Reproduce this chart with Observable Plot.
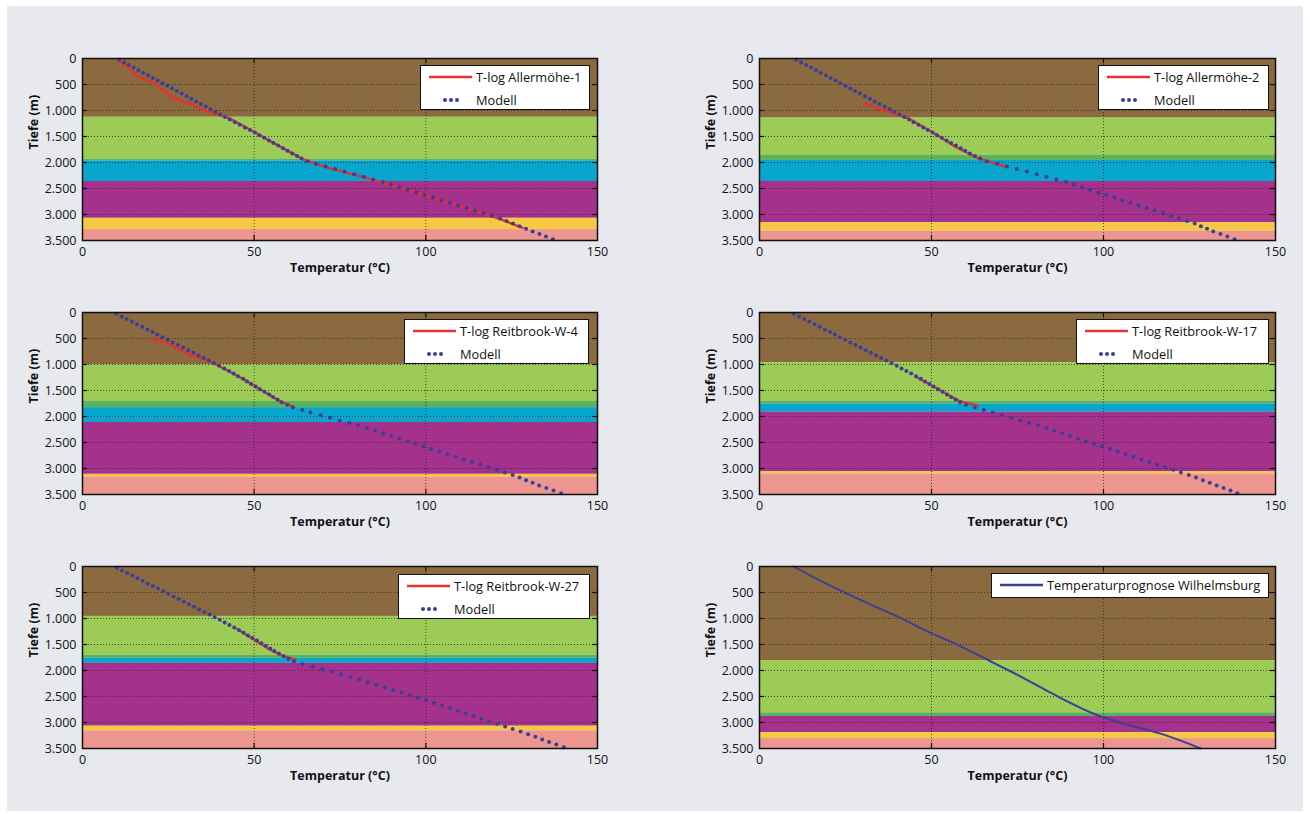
<!DOCTYPE html>
<html><head><meta charset="utf-8">
<script src="https://cdn.jsdelivr.net/npm/d3@7"></script>
<script src="https://cdn.jsdelivr.net/npm/@observablehq/plot@0.6"></script>
<style>
body{margin:0;background:#fff;font-family:"Open Sans",sans-serif;}
#bg{position:absolute;left:7px;top:6px;width:1296px;height:805px;background:#e8e9ee;}
.panel{position:absolute;width:600px;height:250px;}
.legend{position:absolute;background:#fff;border:1.5px solid #111;box-sizing:border-box;font-size:12.8px;color:#111;}
.row{position:absolute;left:0;right:0;height:16px;}
.row .lab{position:absolute;top:0;line-height:16px;white-space:nowrap;}
.row svg{position:absolute;top:0;left:0;}
</style></head><body>
<div id="bg"></div>
<script>
// ---------- DATA ----------
const tempTicks = [0, 50, 100, 150];
const depthTicks = [0, 500, 1000, 1500, 2000, 2500, 3000, 3500];

// model depths (m), one dot every 50 m
const modelDepths = [25,75,125,175,225,275,325,375,425,475,525,575,625,675,725,775,825,875,925,975,
1025,1075,1125,1175,1225,1275,1325,1375,1425,1475,1525,1575,1625,1675,1725,1775,1825,1875,1925,1975,
2025,2075,2125,2175,2225,2275,2325,2375,2425,2475,2525,2575,2625,2675,2725,2775,2825,2875,2925,2975,
3025,3075,3125,3175,3225,3275,3325,3375,3425,3475];

// model temperatures (°C)
const modelAllermoehe1 = [10.7,12.1,13.5,14.9,16.3,17.7,19.1,20.5,21.9,23.3,
24.7,26.1,27.5,28.9,30.3,31.7,33.1,34.5,35.9,37.3,
38.7,40.1,41.5,42.9,44.4,45.8,47.3,48.8,50.2,51.5,
52.9,54.3,55.6,57.0,58.4,59.7,61.1,62.5,63.8,65.5,
68.0,70.8,73.6,76.3,79.1,81.9,84.7,87.4,89.8,92.3,
94.7,97.2,99.6,102.1,104.5,107.0,109.4,111.9,114.3,116.8,
119.2,121.6,123.5,125.4,127.3,129.2,131.1,133.1,135.0,137.0];
const modelAllermoehe2 = [10.7,12.1,13.6,15.0,16.4,17.8,19.3,20.7,22.1,23.5,
25.0,26.4,27.8,29.2,30.7,32.1,33.5,34.9,36.4,37.8,
39.2,40.7,42.1,43.5,44.8,46.2,47.6,48.9,50.3,51.6,
53.0,54.4,55.7,57.1,58.5,59.8,61.2,62.6,64.2,66.2,
69.0,71.9,74.8,77.7,80.6,83.4,86.3,89.1,91.4,93.8,
96.1,98.5,100.8,103.2,105.5,107.9,110.2,112.6,114.9,117.3,
119.6,121.9,124.3,126.5,128.3,130.1,131.9,134.0,136.0,138.1];
const modelReitbrook4 = [9.9,11.4,12.9,14.4,15.9,17.4,18.9,20.4,21.8,23.3,
24.8,26.3,27.8,29.3,30.8,32.3,33.8,35.3,36.8,38.3,
39.8,41.3,42.7,44.0,45.3,46.8,47.9,49.1,50.4,51.6,
53.0,54.4,55.5,56.8,58.0,59.6,61.3,64.0,66.4,69.3,
72.1,74.9,77.7,80.3,82.8,85.2,87.6,89.9,92.3,94.7,
97.0,99.3,101.6,104.0,106.3,108.7,111.0,113.4,115.9,118.3,
120.7,123.0,125.3,127.3,129.2,131.1,133.0,135.1,137.2,139.4];
const modelReitbrook17 = [10.0,11.5,13.0,14.5,16.0,17.5,19.0,20.5,21.9,23.4,
24.9,26.4,27.9,29.4,30.9,32.4,33.9,35.4,36.9,38.4,
39.9,41.3,42.7,44.1,45.5,46.9,48.1,49.4,50.6,51.9,
53.2,54.5,55.7,57.0,58.3,60.0,62.6,65.2,67.8,70.5,
73.3,75.8,78.4,81.0,83.4,85.7,88.0,90.3,92.6,94.9,
97.2,99.5,101.8,104.1,106.4,108.7,111.0,113.3,115.6,117.9,
120.3,122.5,124.8,126.9,128.9,130.9,132.9,134.9,136.9,138.9];
const modelReitbrook27 = [10.0,11.5,13.0,14.5,16.0,17.5,19.0,20.5,22.0,23.5,
25.0,26.5,28.0,29.5,31.0,32.5,34.0,35.5,37.0,38.5,
40.0,41.4,42.8,44.2,45.6,46.9,48.2,49.5,50.8,52.1,
53.4,54.7,55.9,57.2,58.6,60.0,61.6,64.0,67.0,69.9,
72.6,75.3,78.0,80.6,83.1,85.6,88.1,90.5,92.9,95.3,
97.7,100.1,102.4,104.7,107.0,109.3,111.6,113.9,116.2,118.5,
120.8,123.1,125.3,127.6,129.8,131.9,133.9,135.9,138.0,140.2];

// measured T-logs: [depth m, temperature °C]
const logAllermoehe1 = [[32,10.2],[193,14.1],[321,15.2],[385,17.6],[482,21.3],[597,23.2],[726,25.7],[816,28.5],[867,31.3],[963,34.1],[1015,36.3],[1073,39.6],[1156,43.0],[1400,49.6],[1700,57.7],[1950,64.6],[2100,71.4],[2200,77.1],[2300,82.9],[2400,88.1],[2500,93.2],[2600,98.3],[2700,103.3],[2800,108.1],[2900,113.0],[3000,117.7],[3100,122.1],[3200,125.9],[3256,128.2]];
const logAllermoehe2 = [[867,30.6],[963,34.3],[1047,38.8],[1156,43.4],[1413,50.2],[1702,57.0],[1927,63.8],[2087,72.0]];
const logReitbrook4 = [[513,20.3],[552,23.2],[615,25.6],[718,28.5],[814,31.0],[859,33.4],[904,35.8],[975,38.2],[1100,41.8],[1300,47.4],[1500,52.3],[1700,57.3],[1821,61.6]];
const logReitbrook17 = [[1240,45.5],[1400,50.0],[1600,55.3],[1700,58.0],[1790,63.5]];
const logReitbrook27 = [[1200,45.0],[1400,49.8],[1600,54.6],[1700,57.6],[1790,62.0]];

// temperature forecast Wilhelmsburg: [depth m, temperature °C]
const forecastWilhelmsburg = [[0,10.0],[200,15.5],[448,23.1],[686,30.8],[975,40.5],[1263,49.2],[1487,57.0],[1808,66.7],[2000,72.5],[2371,83.1],[2609,89.9],[2846,97.7],[2900,100.0],[3013,105.4],[3205,116.1],[3500,128.2]];

// geological units: [top m, bottom m, unit]
const strataAllermoehe1 = [[0,1130,"brown"],[1130,1935,"green"],[1935,1968,"darkgreen"],[1968,2365,"cyan"],[2365,3073,"purple"],[3073,3290,"yellow"],[3290,3500,"pink"]];
const strataAllermoehe2 = [[0,1145,"brown"],[1145,1865,"green"],[1865,1960,"darkgreen"],[1960,2365,"cyan"],[2365,3160,"purple"],[3160,3322,"yellow"],[3322,3500,"pink"]];
const strataReitbrook4 = [[0,1006,"brown"],[1006,1710,"green"],[1710,1830,"darkgreen"],[1830,2115,"cyan"],[2115,3112,"purple"],[3112,3168,"yellow"],[3168,3500,"pink"]];
const strataReitbrook17 = [[0,962,"brown"],[962,1705,"green"],[1705,1763,"darkgreen"],[1763,1917,"cyan"],[1917,3064,"purple"],[3064,3109,"yellow"],[3109,3500,"pink"]];
const strataReitbrook27 = [[0,960,"brown"],[960,1708,"green"],[1708,1766,"darkgreen"],[1766,1862,"cyan"],[1862,3071,"purple"],[3071,3161,"yellow"],[3161,3500,"pink"]];
const strataWilhelmsburg = [[0,1810,"brown"],[1810,2815,"green"],[2815,2885,"darkgreen"],[2885,3195,"purple"],[3195,3310,"yellow"],[3310,3500,"pink"]];

const legendLabels = ["T-log Allermöhe-1","T-log Allermöhe-2","T-log Reitbrook-W-4","T-log Reitbrook-W-17","T-log Reitbrook-W-27","Temperaturprognose Wilhelmsburg"];
const modelLabel = "Modell";

// ---------- STYLE ----------
const unitColor = {brown:"#8c6a3f", green:"#9ccb56", darkgreen:"#5cb25a", cyan:"#08a6cc", purple:"#a4318b", yellow:"#f6c944", pink:"#ec968f"};
const RED = "#e8302c", BLUE = "#3b3f98";
const fmt = d => d3.format(",")(d).replace(/,/g, ".");

const panels = [
  {left:10, top:40, mr:13, strata:strataAllermoehe1, model:modelAllermoehe1, log:logAllermoehe1, label:legendLabels[0], lg:[420,65,170,45]},
  {left:687, top:40, mr:12, strata:strataAllermoehe2, model:modelAllermoehe2, log:logAllermoehe2, label:legendLabels[1], lg:[1098,65,171,45]},
  {left:10, top:294, mr:13, strata:strataReitbrook4, model:modelReitbrook4, log:logReitbrook4, label:legendLabels[2], lg:[404,319,185,45]},
  {left:687, top:294, mr:12, strata:strataReitbrook17, model:modelReitbrook17, log:logReitbrook17, label:legendLabels[3], lg:[1076,319,193,45]},
  {left:10, top:548, mr:13, strata:strataReitbrook27, model:modelReitbrook27, log:logReitbrook27, label:legendLabels[4], lg:[398,574,192,45]},
  {left:687, top:548, mr:12, strata:strataWilhelmsburg, forecast:forecastWilhelmsburg, label:legendLabels[5], lg:[991,573,278,25]}
];

const inner = depthTicks.slice(1, -1);
const innerT = tempTicks.slice(1, -1);

for (const p of panels) {
  const marks = [
    Plot.rect(p.strata, {x1:0, x2:150, y1:d=>d[0], y2:d=>d[1], fill:d=>unitColor[d[2]]}),
    Plot.ruleY(inner, {stroke:"#262626", strokeDasharray:"1,2", strokeWidth:1, strokeOpacity:0.8}),
    Plot.ruleX(innerT, {stroke:"#262626", strokeDasharray:"1,2", strokeWidth:1, strokeOpacity:0.8})
  ];
  if (p.log) marks.push(Plot.line(p.log, {x:d=>d[1], y:d=>d[0], stroke:RED, strokeWidth:2.4}));
  if (p.model) marks.push(Plot.dot(modelDepths, {x:(d,i)=>p.model[i], y:d=>d, r:2.0, fill:BLUE, stroke:"none"}));
  if (p.forecast) marks.push(Plot.line(p.forecast, {x:d=>d[1], y:d=>d[0], stroke:BLUE, strokeWidth:2, curve:"monotone-y"}));
  marks.push(
    Plot.ruleY(inner, {x1:0, x2:1.5, stroke:"#111", strokeWidth:1.2}),
    Plot.ruleY(inner, {x1:148.5, x2:150, stroke:"#111", strokeWidth:1.2}),
    Plot.ruleX(innerT, {y1:3500, y2:3400, stroke:"#111", strokeWidth:1.2}),
    Plot.ruleX(innerT, {y1:0, y2:100, stroke:"#111", strokeWidth:1.2}),
    Plot.frame({stroke:"#111", strokeWidth:1.5}),
    Plot.axisY({ticks:depthTicks, tickSize:0, tickPadding:6, tickFormat:fmt, label:null, fill:"#111", fontSize:12.5, fontWeight:500}),
    Plot.axisX({ticks:tempTicks, tickSize:0, tickPadding:7, tickFormat:d=>String(d), label:null, fill:"#111", fontSize:12.5, fontWeight:500}),
    Plot.text(["Temperatur (°C)"], {text:d=>d, frameAnchor:"bottom", dy:31, fontWeight:"bold", fontSize:12.5, fill:"#111"}),
    Plot.text(["Tiefe (m)"], {text:d=>d, frameAnchor:"left", dx:-49, rotate:-90, fontWeight:"bold", fontSize:12.5, fill:"#111"})
  );
  const svg = Plot.plot({
    width:600, height:250,
    marginLeft:72, marginRight:p.mr, marginTop:18, marginBottom:50,
    x:{domain:[0,150]}, y:{domain:[0,3500], reverse:true},
    color:{type:"identity"},
    style:{background:"transparent", fontFamily:"'Open Sans', sans-serif", fontSize:"12.5px", overflow:"visible"},
    marks
  });
  const div = document.createElement("div");
  div.className = "panel";
  div.style.left = p.left + "px";
  div.style.top = p.top + "px";
  div.appendChild(svg);
  document.body.appendChild(div);

  // legend
  const [lx, ly, lw, lh] = p.lg;
  const lg = document.createElement("div");
  lg.className = "legend";
  Object.assign(lg.style, {left:lx+"px", top:ly+"px", width:lw+"px", height:lh+"px"});
  const rows = p.forecast
    ? [{label:p.label, kind:"line", color:BLUE, y:3}]
    : [{label:p.label, kind:"line", color:RED, y:3}, {label:modelLabel, kind:"dots", color:BLUE, y:26}];
  for (const r of rows) {
    const row = document.createElement("div");
    row.className = "row";
    row.style.top = r.y + "px";
    const sample = r.kind === "line"
      ? `<svg width="60" height="16"><line x1="8" x2="51" y1="8" y2="8" stroke="${r.color}" stroke-width="2.4"/></svg>`
      : `<svg width="60" height="16"><circle cx="24" cy="8" r="2" fill="${r.color}"/><circle cx="30" cy="8" r="2" fill="${r.color}"/><circle cx="36" cy="8" r="2" fill="${r.color}"/></svg>`;
    row.innerHTML = sample + `<span class="lab" style="left:55px">${r.label}</span>`;
    lg.appendChild(row);
  }
  document.body.appendChild(lg);
}
</script>
</body></html>
